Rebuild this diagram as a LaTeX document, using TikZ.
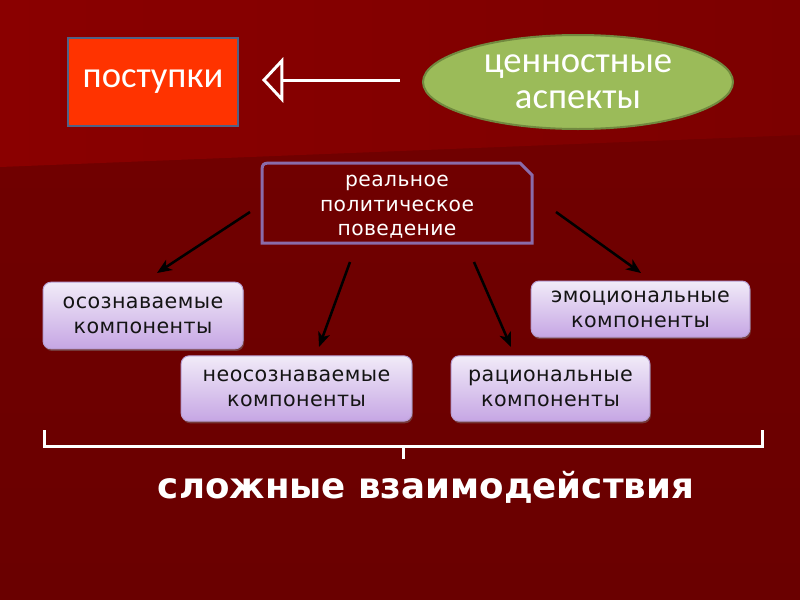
\documentclass[tikz,border=0pt]{standalone}
\usepackage{fontspec}
\setmainfont{DejaVu Sans}
\newfontfamily\calfont{Carlito}
\newfontfamily\verd[LetterSpace=2]{DejaVu Sans}
\usetikzlibrary{arrows.meta,shadows,calc,shapes.geometric}
\definecolor{bgtopl}{HTML}{8A0000}
\definecolor{bgtopr}{HTML}{7C0000}
\definecolor{bgdark}{HTML}{720000}
\definecolor{bgbottom}{HTML}{6A0000}
\definecolor{postred}{HTML}{FF3300}
\definecolor{postborder}{HTML}{4F6286}
\definecolor{ellgreen}{HTML}{9BBB59}
\definecolor{ellborder}{HTML}{71893F}
\definecolor{realborder}{HTML}{8A6BAA}
\definecolor{comptop}{HTML}{F1EBF8}
\definecolor{compbot}{HTML}{C6A6E4}
\definecolor{compborder}{HTML}{B79ED2}
\definecolor{comptext}{HTML}{141414}
\tikzset{
  comp/.style={rectangle, rounded corners=6pt, draw=compborder, line width=0.75pt,
    top color=comptop, bottom color=compbot, text=comptext, align=center,
    font=\verd\fontsize{15.5}{18.75}\selectfont, inner sep=0pt,
    drop shadow={opacity=0.45, shadow xshift=0.8pt, shadow yshift=-1.6pt}},
  conn/.style={line width=1.9pt, black, -{Stealth[length=11pt, width=9pt, inset=3pt]}},
  whiteline/.style={white, line width=2.25pt},
}
\begin{document}
\begin{tikzpicture}[x=0.75pt, y=-0.75pt]
\useasboundingbox (0,0) rectangle (800,600);
% background
\shade[top color=bgdark, bottom color=bgbottom] (0,0) rectangle (800,600);
\shade[left color=bgtopl, right color=bgtopr] (0,0) -- (800,0) -- (800,135) -- (0,167) -- cycle;

% top row
\node[rectangle, draw=postborder, line width=1.5pt, fill=postred, minimum width=127.5pt, minimum height=66pt,
      text=white, font=\calfont\fontsize{27.5}{30}\selectfont] (post) at (153,82) {поступки};
\node[ellipse, draw=ellborder, line width=1.5pt, fill=ellgreen, minimum width=232.5pt, minimum height=70.5pt,
      inner sep=0pt, text=white, align=center, font=\calfont\fontsize{27.5}{27}\selectfont] (val) at (578,82) {ценностные\\аспекты};
\coordinate (arrS) at (400,80);
\coordinate (arrE) at (262,80);
\draw[whiteline, -{Triangle[open, length=16pt, width=34pt, line width=2.2pt]}] (arrS) -- (arrE);

% central box
\node[text=white, align=center, font=\verd\fontsize{15.2}{18.4}\selectfont, minimum width=202pt, minimum height=60pt] (real) at (397,207) {реальное\\политическое\\поведение};
\draw[realborder, line width=2.25pt] (262,243) -- (262,175) .. controls (262,163) .. (274,163) -- (520,163) -- (532,175) -- (532,243) -- cycle;

% component boxes
\node[comp, minimum width=150pt, minimum height=50pt] (osoz) at (143,315.5) {осознаваемые\\компоненты};
\node[comp, minimum width=173pt, minimum height=49pt] (neos) at (296.5,388.5) {неосознаваемые\\компоненты};
\node[comp, minimum width=149pt, minimum height=49pt] (rats) at (550.5,388.5) {рациональные\\компоненты};
\node[comp, minimum width=164pt, minimum height=42pt] (emot) at (640.5,309) {эмоциональные\\компоненты};

% connectors
\coordinate (c1s) at (250,212); \coordinate (c1e) at (157,273);
\coordinate (c2s) at (350,262); \coordinate (c2e) at (319,347);
\coordinate (c3s) at (474,262); \coordinate (c3e) at (511,347);
\coordinate (c4s) at (556,212); \coordinate (c4e) at (641,273);
\draw[conn] (c1s) -- (c1e);
\draw[conn] (c2s) -- (c2e);
\draw[conn] (c3s) -- (c3e);
\draw[conn] (c4s) -- (c4e);

% bracket
\coordinate (bl) at (44,430); \coordinate (br) at (762,430); \coordinate (bm) at (403,446); \coordinate (bt) at (403,459);
\draw[whiteline] (bl) -- (44,446) -- (762,446) -- (br);
\draw[whiteline] (bm) -- (bt);

\node[text=white, font=\bfseries\fontsize{26.7}{30}\selectfont] (slozh) at (426,487) {сложные взаимодействия};
\end{tikzpicture}
\end{document}
